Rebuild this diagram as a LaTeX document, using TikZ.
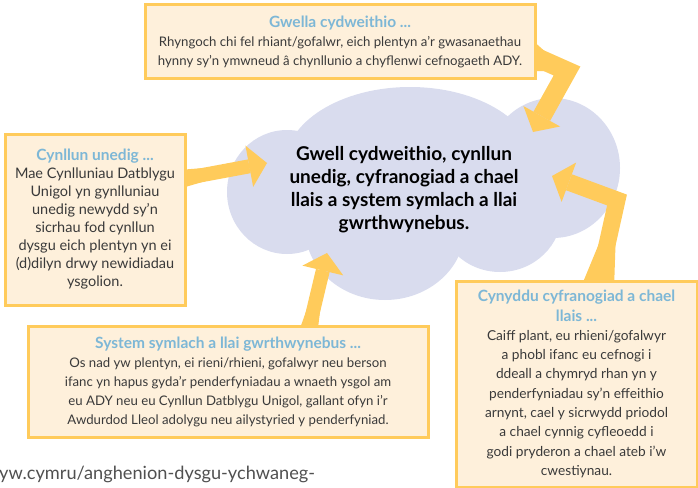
\documentclass[tikz,border=0pt]{standalone}
\usepackage{fontspec}
\setmainfont{Lato}
\usetikzlibrary{arrows.meta}
\definecolor{boxfill}{RGB}{254,240,219}
\definecolor{gold}{RGB}{255,203,91}
\definecolor{lilac}{RGB}{217,220,238}
\definecolor{headblue}{RGB}{125,183,214}
\definecolor{bodygrey}{RGB}{58,58,58}
\definecolor{urlgrey}{RGB}{80,80,80}
\pgfdeclarelayer{cloudlayer}
\pgfdeclarelayer{arrowlayer}
\pgfsetlayers{cloudlayer,arrowlayer,main}
\newcommand{\boxhead}[1]{{\fontsize{15.5}{19}\selectfont\bfseries\color{headblue}#1}}

\begin{document}
\begin{tikzpicture}[x=1pt,y=-1pt,
    infobox/.style={draw=gold, line width=3pt, fill=boxfill, align=center,
      text=bodygrey, inner sep=0pt, font=\fontsize{13.2}{19}\selectfont},
    band/.style={draw=gold, line width=#1, line join=miter},
    band/.default=14pt,
    bigtip/.style={-{Triangle[length=18pt,width=42pt,line width=0pt]}}]
  \useasboundingbox (0,0) rectangle (698,487);

  % the cloud
  \begin{pgfonlayer}{cloudlayer}
    \foreach \cx/\cy/\rx/\ry in {287/192/60/62, 410/165/125/78, 385/228/80/72,
                                 553/168/67/70, 500/212/62/60}
      \fill[lilac] (\cx,\cy) ellipse ({\rx pt} and {\ry pt});
  \end{pgfonlayer}
  \node[font=\fontsize{19}{23}\selectfont\bfseries, align=center, text=black] (goal) at (404,190)
    {Gwell cydweithio, cynllun\\
     unedig, cyfranogiad a chael\\
     llais a system symlach a llai\\
     gwrthwynebus.};

  % the four boxes
  \node[infobox, minimum width=390pt, minimum height=73pt] (gwella) at (340,41.5)
    {\boxhead{Gwella cydweithio ...}\\
     Rhyngoch chi fel rhiant/gofalwr, eich plentyn a’r gwasanaethau\\
     hynny sy’n ymwneud â chynllunio a chyflenwi cefnogaeth ADY.};
  \node[infobox, minimum width=180pt, minimum height=171pt,
        font=\fontsize{14.5}{18}\selectfont] (cynllun) at (95,219.5)
    {\boxhead{Cynllun unedig ...}\\
     Mae Cynlluniau Datblygu\\
     Unigol yn gynlluniau\\
     unedig newydd sy’n\\
     sicrhau fod cynllun\\
     dysgu eich plentyn yn ei\\
     (d)dilyn drwy newidiadau\\
     ysgolion.};
  \node[infobox, minimum width=400pt, minimum height=111pt] (system) at (228,381.5)
    {\boxhead{System symlach a llai gwrthwynebus ...}\\
     Os nad yw plentyn, ei rieni/rhieni, gofalwyr neu berson\\
     ifanc yn hapus gyda’r penderfyniadau a wnaeth ysgol am\\
     eu ADY neu eu Cynllun Datblygu Unigol, gallant ofyn i’r\\
     Awdurdod Lleol adolygu neu ailystyried y penderfyniad.};
  \node[infobox, minimum width=241pt, minimum height=206pt,
        font=\fontsize{13.7}{19.3}\selectfont] (cynyddu) at (576.5,384)
    {\boxhead{Cynyddu cyfranogiad a chael}\\
     \boxhead{llais ...}\\
     Caiff plant, eu rhieni/gofalwyr\\
     a phobl ifanc eu cefnogi i\\
     ddeall a chymryd rhan yn y\\
     penderfyniadau sy’n effeithio\\
     arnynt, cael y sicrwydd priodol\\
     a chael cynnig cyfleoedd i\\
     godi pryderon a chael ateb i’w\\
     cwestiynau.};

  \node[anchor=base west, inner sep=0pt, text=urlgrey, font=\fontsize{18.2}{21}\selectfont] (url)
    at (-1,479) {yw.cymru/anghenion-dysgu-ychwaneg-};

  % arrows into the cloud
  \coordinate (gstart) at ([xshift=-10pt,yshift=-11.5pt]gwella.east);
  \coordinate (gbend) at (567,71);
  \coordinate (gtip) at (533,132);
  \coordinate (cstart) at ([xshift=-8pt,yshift=40pt]cynllun.east);
  \coordinate (ctip) at (267,163);
  \coordinate (sstart) at ([xshift=80pt,yshift=-8pt]system.north);
  \coordinate (stip) at (327,253);
  \coordinate (ystart) at ([xshift=20.5pt,yshift=-10pt]cynyddu.north);
  \coordinate (ybend) at (617,200);
  \coordinate (ytip) at (552,176);
  \begin{pgfonlayer}{arrowlayer}
    \draw[band=19pt, bigtip] (gstart) -- (gbend) -- (gtip);
    \fill[gold] ([yshift=18pt]gstart) -- ([yshift=-18pt]gstart) -- (gbend) -- cycle;
    \draw[band, bigtip] (cstart) -- (ctip);
    \fill[gold] ([yshift=9.5pt]cstart) -- ([yshift=-9.5pt]cstart) -- (ctip) -- cycle;
    \draw[band, bigtip] (sstart) -- (stip);
    \fill[gold] ([xshift=9.5pt]sstart) -- ([xshift=-9.5pt]sstart) -- (stip) -- cycle;
    \draw[band=17pt, bigtip] (ystart) -- (ybend) -- (ytip);
    \fill[gold] ([xshift=17pt]ystart) -- ([xshift=-17pt]ystart) -- (ybend) -- cycle;
  \end{pgfonlayer}
\end{tikzpicture}
\end{document}
